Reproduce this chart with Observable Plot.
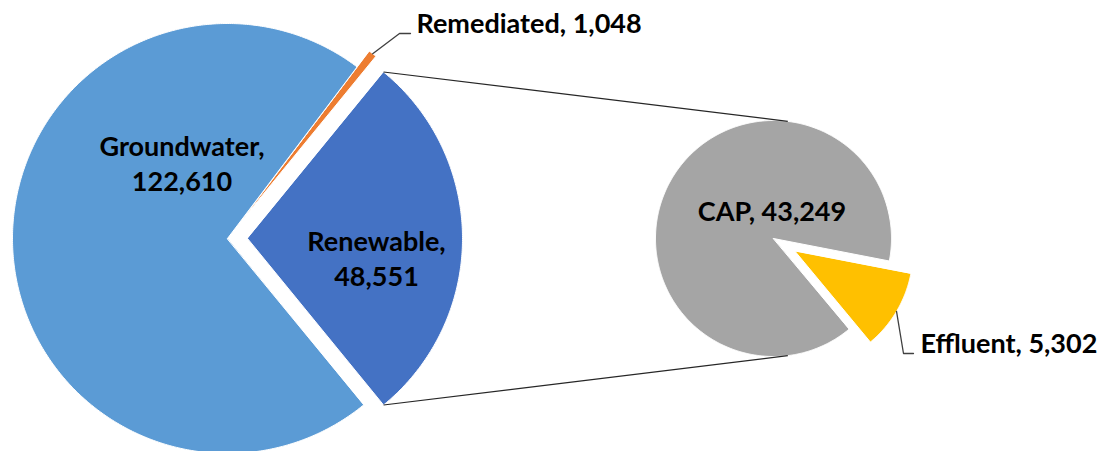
<!DOCTYPE html>
<html>
<head>
<meta charset="utf-8">
<script src="https://cdn.jsdelivr.net/npm/d3@7"></script>
<script src="https://cdn.jsdelivr.net/npm/@observablehq/plot@0.6"></script>
<style>
  html, body { margin: 0; padding: 0; background: #ffffff; }
  #chart { width: 1104px; height: 451px; overflow: hidden; }
</style>
</head>
<body>
<div id="chart"></div>
<script>
// ---------- data ----------
const primaryCategories = ["Renewable", "Remediated", "Groundwater"];
const primaryValues = [48551, 1048, 122610];
const secondaryCategories = ["Effluent", "CAP"];
const secondaryValues = [5302, 43249];
const sliceColors = ["#4472C4", "#ED7D31", "#5B9BD5", "#FFC000", "#A5A5A5"];

// ---------- layout (pixels, y down) ----------
const W = 1104, H = 451;
const primary = { cx: 227, cy: 238, r: 215, firstCenterDeg: 0,
                  explode: { Renewable: 20, Remediated: 20 } };
const secondary = { cx: 773, cy: 238, r: 118, firstCenterDeg: -30.65,
                    explode: { Effluent: 25 } };
const labelLayout = {
  Groundwater: { x: 181.5, y: 162, anchor: "middle", multi: true },
  Renewable:   { x: 376,   y: 257, anchor: "middle", multi: true },
  CAP:         { x: 771.5, y: 209, anchor: "middle", multi: false },
  Remediated:  { x: 416,   y: 24,  anchor: "start",  multi: false, elbow: [399, 33], end: [410, 33] },
  Effluent:    { x: 920,   y: 344, anchor: "start",  multi: false, elbow: [903, 353], end: [913, 353] }
};

const fmt = d3.format(",");
const rad = (deg) => deg * Math.PI / 180;

// build slices for a pie, first slice centred on firstCenterDeg, counter-clockwise
function buildPie(cats, vals, cfg) {
  const total = d3.sum(vals);
  const spans = vals.map(v => v / total * 360);
  let a = cfg.firstCenterDeg - spans[0] / 2;
  return cats.map((name, i) => {
    const a0 = a, a1 = a + spans[i];
    a = a1;
    const mid = (a0 + a1) / 2;
    const e = (cfg.explode[name] || 0);
    const ox = cfg.cx + e * Math.cos(rad(mid));
    const oy = cfg.cy - e * Math.sin(rad(mid));
    return { name, value: vals[i], a0, a1, mid, ox, oy, r: cfg.r };
  });
}
const pt = (s, deg, r = s.r) => [s.ox + r * Math.cos(rad(deg)), s.oy - r * Math.sin(rad(deg))];

function slicePolygon(s) {
  const pts = [{ name: s.name, x: s.ox, y: s.oy }];
  const n = Math.max(2, Math.ceil((s.a1 - s.a0) / 0.5) + 1);
  for (let k = 0; k < n; k++) {
    const deg = s.a0 + (s.a1 - s.a0) * k / (n - 1);
    const [x, y] = pt(s, deg);
    pts.push({ name: s.name, x, y });
  }
  return pts;
}

const pSlices = buildPie(primaryCategories, primaryValues, primary);
const sSlices = buildPie(secondaryCategories, secondaryValues, secondary);
const allSlices = [...pSlices, ...sSlices];
const polyData = allSlices.flatMap(slicePolygon);

// connector lines: from the "other" slice corners to tangent points of the second pie
const other = pSlices[0];
function tangent(P, C, r, pickTop) {
  const dx = P[0] - C[0], dy = P[1] - C[1];
  const d = Math.hypot(dx, dy);
  const phi = Math.atan2(dy, dx);
  const al = Math.acos(r / d);
  const t1 = [C[0] + r * Math.cos(phi + al), C[1] + r * Math.sin(phi + al)];
  const t2 = [C[0] + r * Math.cos(phi - al), C[1] + r * Math.sin(phi - al)];
  return pickTop ? (t1[1] < t2[1] ? t1 : t2) : (t1[1] > t2[1] ? t1 : t2);
}
const cTop = pt(other, other.a1), cBot = pt(other, other.a0);
const tTop = tangent(cTop, [secondary.cx, secondary.cy], secondary.r, true);
const tBot = tangent(cBot, [secondary.cx, secondary.cy], secondary.r, false);
const connectors = [
  { x1: cTop[0], y1: cTop[1], x2: tTop[0], y2: tTop[1] },
  { x1: cBot[0], y1: cBot[1], x2: tBot[0], y2: tBot[1] }
];

// labels
const labels = allSlices.map(s => {
  const L = labelLayout[s.name];
  const text = L.multi ? `${s.name},\n${fmt(s.value)}` : `${s.name}, ${fmt(s.value)}`;
  return { ...L, name: s.name, text };
});

// leader lines for the outside labels
const leaders = allSlices.filter(s => labelLayout[s.name].elbow).flatMap(s => {
  const L = labelLayout[s.name];
  const [x0, y0] = pt(s, s.mid);
  return [
    { name: s.name, x: x0, y: y0 },
    { name: s.name, x: L.elbow[0], y: L.elbow[1] },
    { name: s.name, x: L.end[0], y: L.end[1] }
  ];
});

const font = { fontFamily: "Lato, 'Noto Sans', sans-serif", fontWeight: "bold", fontSize: 27, fill: "#000000" };

const chart = Plot.plot({
  width: W,
  height: H,
  margin: 0,
  style: { background: "#ffffff", overflow: "hidden" },
  x: { domain: [0, W], range: [0, W], axis: null },
  y: { domain: [0, H], range: [0, H], axis: null },
  color: { domain: allSlices.map(s => s.name), range: sliceColors },
  marks: [
    Plot.line(polyData, { x: "x", y: "y", z: "name", fill: "name", stroke: "#ffffff", strokeWidth: 1, curve: "linear-closed" }),
    Plot.link(connectors, { x1: "x1", y1: "y1", x2: "x2", y2: "y2", stroke: "#262626", strokeWidth: 1.2 }),
    Plot.line(leaders, { x: "x", y: "y", z: "name", stroke: "#404040", strokeWidth: 1.3 }),
    Plot.text(labels.filter(d => d.anchor === "middle"), { x: "x", y: "y", text: "text", textAnchor: "middle", lineHeight: 1.3, ...font }),
    Plot.text(labels.filter(d => d.anchor === "start"), { x: "x", y: "y", text: "text", textAnchor: "start", ...font })
  ]
});
document.getElementById("chart").appendChild(chart);
</script>
</body>
</html>
